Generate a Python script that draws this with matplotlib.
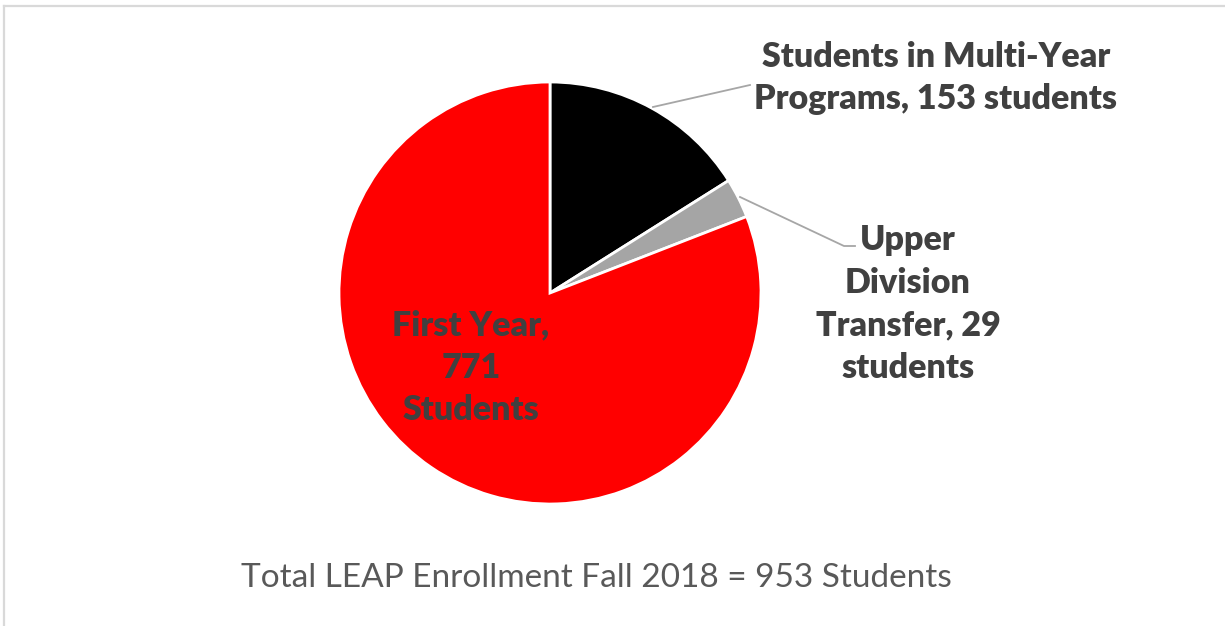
import matplotlib
matplotlib.use("Agg")
import matplotlib.pyplot as plt
from matplotlib.lines import Line2D

# Enrollment groups, in clockwise order from 12 o'clock
groups = ["Students in Multi-Year Programs", "Upper Division Transfer", "First Year"]
counts = [153, 29, 771]
colors = ["#000000", "#A5A5A5", "#FF0000"]
label_text = [
    "Students in Multi-Year\nPrograms, {} students",
    "Upper\nDivision\nTransfer, {}\nstudents",
    "First Year,\n{}\nStudents",
]
total_title = "Total LEAP Enrollment Fall 2018 = {} Students"

W, H = 1225, 626
fig = plt.figure(figsize=(W / 100, H / 100), dpi=100)
fig.patch.set_facecolor("white")

# chart-area frame (left and top edges visible)
fig.add_artist(Line2D([4 / W, 4 / W], [0, 1 - 5.5 / H], color="#D9D9D9", lw=1.6,
                      transform=fig.transFigure))
fig.add_artist(Line2D([4 / W, 1], [1 - 5.5 / H, 1 - 5.5 / H], color="#D9D9D9", lw=1.6,
                      transform=fig.transFigure))

cx, cy, r = 550, 293, 211
ax = fig.add_axes([(cx - r) / W, (H - cy - r) / H, 2 * r / W, 2 * r / H])
wedges, _ = ax.pie(counts, colors=colors, startangle=90, counterclock=False, radius=1,
                   wedgeprops=dict(edgecolor="white", linewidth=2))
ax.set_xlim(-1, 1)
ax.set_ylim(-1, 1)
ax.set_aspect("equal")
ax.axis("off")

font = "Lato"
txt_color = "#404040"
fs = 24.5
ls = 1.4

def px(x, y):
    return x / W, 1 - y / H

# Multi-year label and leader
fig.add_artist(Line2D([653 / W, 750 / W], [1 - 107 / H, 1 - 85 / H], color="#A6A6A6",
                      lw=1.3, transform=fig.transFigure))
fig.text(*px(936, 78), label_text[0].format(counts[0]), ha="center", va="center",
         fontsize=fs, fontweight="heavy", family=font, color=txt_color, linespacing=ls)

# Upper division label and leader
fig.add_artist(Line2D([740 / W, 844 / W, 855 / W], [1 - 197 / H, 1 - 246 / H, 1 - 246 / H],
                      color="#A6A6A6", lw=1.3, transform=fig.transFigure))
fig.text(*px(908, 304), label_text[1].format(counts[1]), ha="center", va="center",
         fontsize=fs, fontweight="heavy", family=font, color=txt_color, linespacing=ls)

# First year label inside the red wedge
fig.text(*px(471, 368), label_text[2].format(counts[2]), ha="center", va="center",
         fontsize=fs, fontweight="heavy", family=font, color=txt_color, linespacing=ls)

# Total line
fig.text(*px(596, 578), total_title.format(sum(counts)), ha="center", va="center",
         fontsize=24, family=font, color="#595959")

fig.savefig("out.png", dpi=100, facecolor="white")
